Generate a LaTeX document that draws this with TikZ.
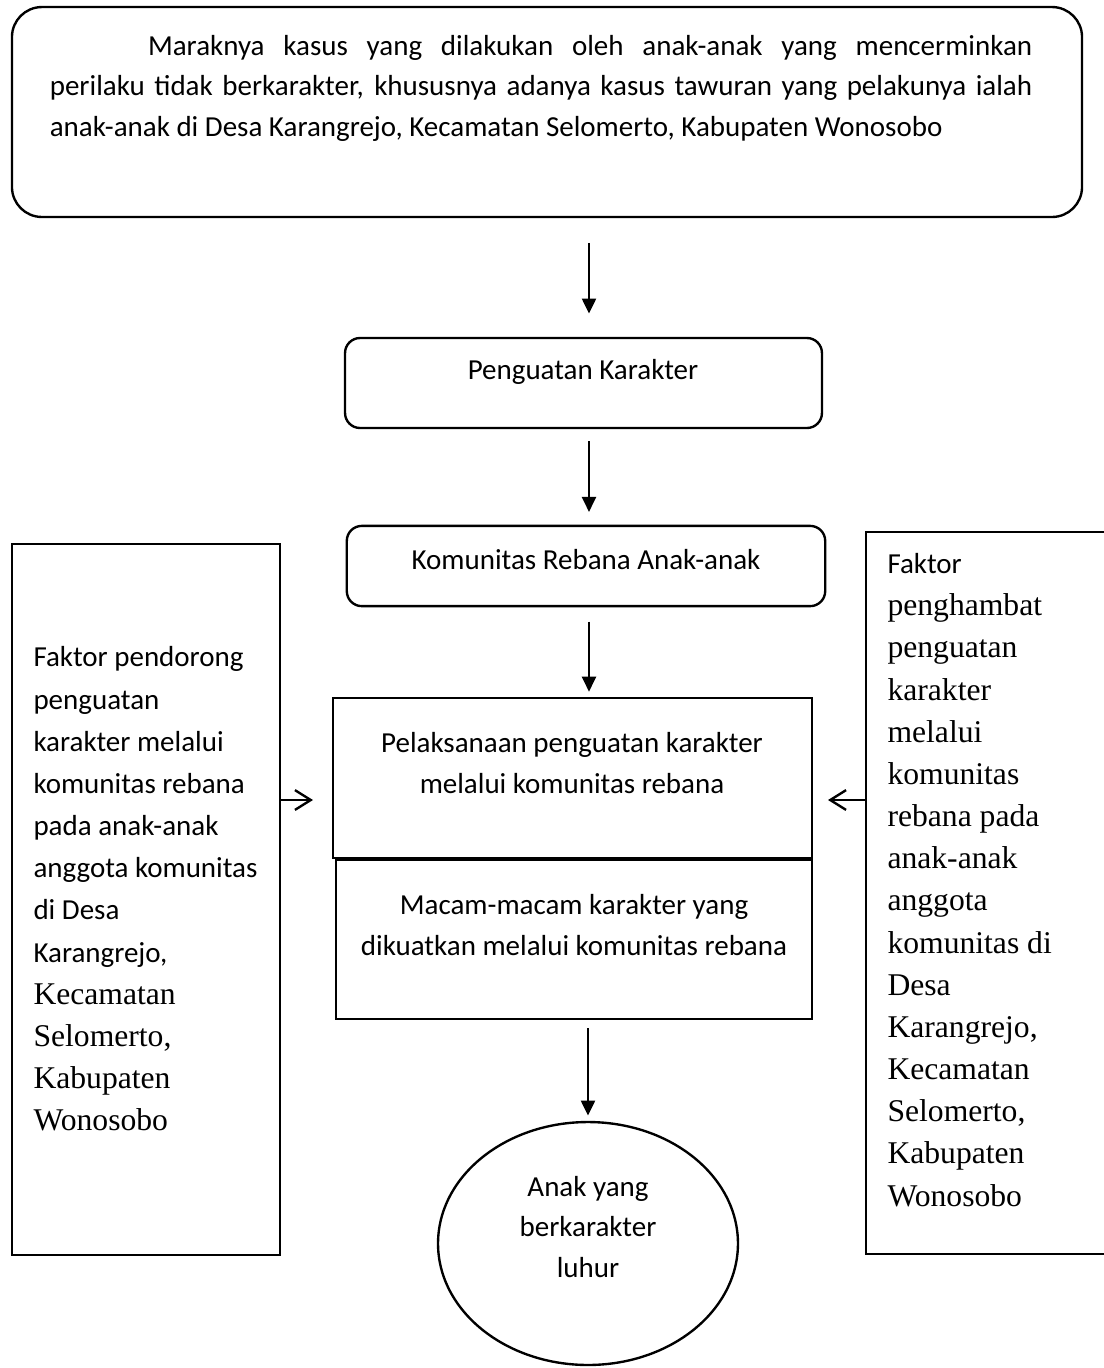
\documentclass[tikz,border=0pt]{standalone}
\usepackage{fontspec}
\setmainfont{Carlito}
\newfontfamily\serifrm{Liberation Serif}
\newcommand{\tnr}[1]{{\serifrm\fontsize{12}{16}\selectfont #1}}
\usetikzlibrary{arrows.meta, shapes.geometric}
\tikzset{
  roundbox/.style={draw, line width=0.9pt, rounded corners=0.2cm, inner sep=0pt},
  plainbox/.style={draw, line width=0.9pt, inner sep=0pt},
  txt/.style={inner sep=0pt, align=center, font=\fontsize{11}{15.2}\selectfont},
  sidetxt/.style={inner sep=0pt, align=left, anchor=west, font=\fontsize{11}{16}\selectfont},
  flow/.style={line width=0.9pt, -{Triangle[length=5.7pt, width=5.3pt]}},
  push/.style={line width=0.9pt, -{Straight Barb[length=6pt, width=7.5pt]}},
}

\begin{document}
\begin{tikzpicture}[x=0.01334cm, y=-0.01334cm]
  \useasboundingbox (0,0) rectangle (1104,1368);
  % boxes
  \node[roundbox, rounded corners=0.4cm, minimum width=14.27cm, minimum height=2.80cm] (kasus) at (547,112) {};
  \node[roundbox, minimum width=6.36cm, minimum height=1.20cm] (penguatan) at (583.5,383) {};
  \node[roundbox, minimum width=6.38cm, minimum height=1.07cm] (komunitas) at (586,566) {};
  \node[plainbox, minimum width=6.39cm, minimum height=2.13cm] (pelaksanaan) at (572.5,778) {};
  \node[plainbox, minimum width=6.35cm, minimum height=2.12cm] (macam) at (574,939.5) {};
  \node[plainbox, ellipse, minimum width=4cm, minimum height=3.24cm] (anak) at (588,1243.5) {};
  \node[plainbox, minimum width=3.575cm, minimum height=9.485cm] (pendorong) at (146,899.5) {};
  \node[plainbox, minimum width=4.0cm, minimum height=9.63cm] (penghambat) at (1016,893) {};
  % texts
  \node[txt, text width=13.1cm, align=justify, font=\fontsize{11}{15.4}\selectfont] (kasustxt) at (541,88)
    {\hspace*{1.31cm}Maraknya kasus yang dilakukan oleh anak-anak yang mencerminkan\linebreak
     perilaku tidak berkarakter, khususnya adanya kasus tawuran yang pelakunya ialah\linebreak
     anak-anak di Desa Karangrejo, Kecamatan Selomerto, Kabupaten Wonosobo};
  \node[txt] (penguatantxt) at (583,372) {Penguatan Karakter};
  \node[txt] (komunitastxt) at (586,560) {Komunitas Rebana Anak-anak};
  \node[txt] (pelaksanaantxt) at (572,763) {Pelaksanaan penguatan karakter\\melalui komunitas rebana};
  \node[txt] (macamtxt) at (574,925) {Macam-macam karakter yang\\dikuatkan melalui komunitas rebana};
  \node[txt] (anaktxt) at (588,1227) {Anak yang\\berkarakter\\luhur};
  \node[sidetxt] (pendorongtxt) at (33,889) {Faktor pendorong\\penguatan\\karakter melalui\\komunitas rebana\\pada anak-anak\\anggota komunitas\\di Desa\\Karangrejo,\\\tnr{Kecamatan}\\\tnr{Selomerto,}\\\tnr{Kabupaten}\\\tnr{Wonosobo}};
  \node[sidetxt] (penghambattxt) at (887,880) {Faktor\\\tnr{penghambat}\\\tnr{penguatan}\\\tnr{karakter}\\\tnr{melalui}\\\tnr{komunitas}\\\tnr{rebana pada}\\\tnr{anak-anak}\\\tnr{anggota}\\\tnr{komunitas di}\\\tnr{Desa}\\\tnr{Karangrejo,}\\\tnr{Kecamatan}\\\tnr{Selomerto,}\\\tnr{Kabupaten}\\\tnr{Wonosobo}};
  % arrows
  \coordinate (col) at (589,0);
  \coordinate (lin) at (313,800);
  \coordinate (rin) at (828,800);
  \draw[flow, shorten <=0.33cm, shorten >=0.31cm] (kasus.south -| col) -- (penguatan.north -| col);
  \draw[flow, shorten <=0.16cm, shorten >=0.17cm] (penguatan.south -| col) -- (komunitas.north -| col);
  \draw[flow, shorten <=0.19cm, shorten >=0.07cm] (komunitas.south -| col) -- (pelaksanaan.north -| col);
  \draw[flow, shorten <=0.11cm, shorten >=0.07cm] (macam.south -| anak.north) -- (anak.north);
  \draw[push] (pendorong.east |- lin) -- (lin);
  \draw[push] (penghambat.west |- rin) -- (rin);
\end{tikzpicture}
\end{document}
